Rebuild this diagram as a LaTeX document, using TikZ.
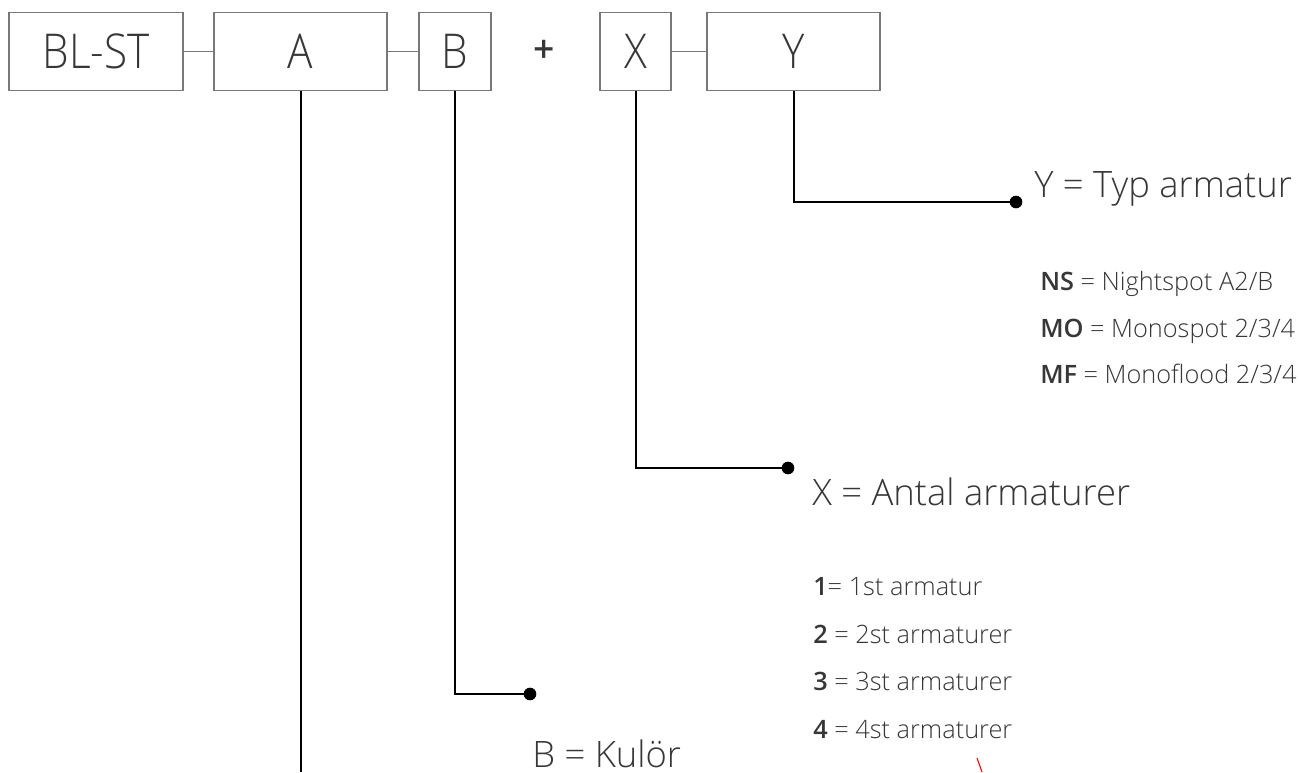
\documentclass[tikz,border=0pt]{standalone}
\usepackage{fontspec}
\setmainfont{Open Sans}[UprightFont=* Light]
\newfontfamily\boxfont{Open Sans}[UprightFont=* Light,FakeStretch=0.88]
\usepackage{xcolor}
\usepackage{tikz}
\usetikzlibrary{positioning}

\definecolor{txtgrey}{RGB}{55,55,55}
\definecolor{boxgrey}{RGB}{120,120,120}

\begin{document}
\begin{tikzpicture}[x=0.75pt,y=0.75pt,yscale=-1,xscale=1,
  codebox/.style={draw=boxgrey,line width=0.9pt,anchor=north west,inner sep=0pt,outer sep=0pt,
    minimum height=58.5pt,text=txtgrey,font=\boxfont\fontsize{36}{40}\selectfont},
  boxlink/.style={draw=boxgrey,line width=1pt},
  branch/.style={draw=black,line width=1.5pt},
  enddot/.style={circle,fill=black,inner sep=0pt,minimum size=9.5pt},
  biglabel/.style={anchor=base west,inner sep=0pt,text=txtgrey,font=\fontsize{27.3}{31}\selectfont},
  smalllabel/.style={anchor=base west,inner sep=0pt,text=txtgrey,font=\fontsize{19}{23}\selectfont}]
   \useasboundingbox (0,0) rectangle (1300,772);

   %Shape: Rectangle [code boxes]
   \node[codebox,minimum width=130.5pt] (blst) at (9,12.7) {BL-ST};
   \node[codebox,minimum width=129.75pt] (boxa) at (214,12.7) {A};
   \node[codebox,minimum width=54pt] (boxb) at (419,12.7) {B};
   \node[codebox,minimum width=53.25pt] (boxx) at (600,12.7) {X};
   \node[codebox,minimum width=129.75pt] (boxy) at (707,12.7) {Y};
   % Text Node
   \node[inner sep=0pt,text=txtgrey,font=\bfseries\fontsize{28}{32}\selectfont] (plus) at (544,51) {+};

   %Straight Lines [box links]
   \draw[boxlink] (blst.east) -- (boxa.west);
   \draw[boxlink] (boxa.east) -- (boxb.west);
   \draw[boxlink] (boxx.east) -- (boxy.west);

   %Shape: Circle [end dots]
   \node[enddot] (doty) at (1016,202) {};
   \node[enddot] (dotx) at (788,468) {};
   \node[enddot] (dotb) at (530,694) {};
   \coordinate (enda) at (301,772);

   %Straight Lines [branches]
   \draw[branch] (boxy.south) |- (doty.center);
   \draw[branch] (boxx.south) |- (dotx.center);
   \draw[branch] (boxb.south) |- (dotb.center);
   \draw[branch] (boxa.south) -- (boxa.south |- enda);

   % Text Node
   \node[biglabel] (laby) at (1034,197) {Y = Typ armatur};
   % Text Node
   \node[smalllabel] (ns) at (1040,290) {\textbf{NS} = Nightspot A2/B};
   \node[smalllabel] (mo) at (1040,337) {\textbf{MO} = Monospot 2/3/4};
   \node[smalllabel] (mf) at (1040,383) {\textbf{MF} = Monoflood 2/3/4};
   % Text Node
   \node[biglabel] (labx) at (812,505) {X = Antal armaturer};
   % Text Node
   \node[smalllabel] (one) at (813,595) {\textbf{1}= 1st armatur};
   \node[smalllabel] (two) at (813,643) {\textbf{2} = 2st armaturer};
   \node[smalllabel] (three) at (813,690) {\textbf{3} = 3st armaturer};
   \node[smalllabel] (four) at (813,738) {\textbf{4} = 4st armaturer};
   % Text Node
   \node[biglabel] (labb) at (532,767) {B = Kulör};

   %Straight Lines [red mark]
   \draw[red,line width=0.8pt] (977,758) -- (982,772);
\end{tikzpicture}
\end{document}
